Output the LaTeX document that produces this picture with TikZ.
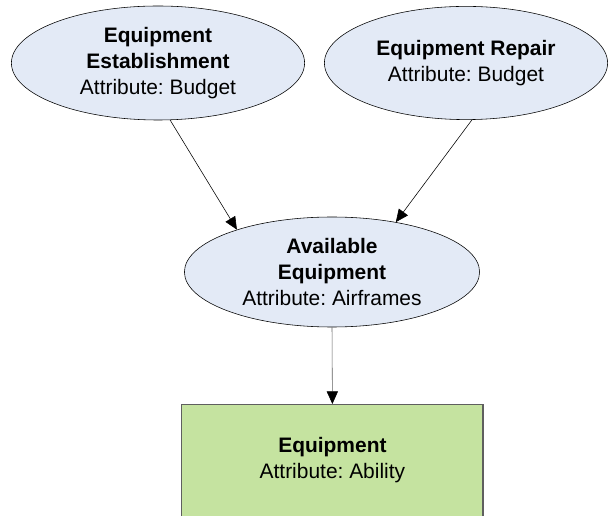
\documentclass[tikz,border=0pt]{standalone}
\usepackage{fontspec}
\setmainfont{Liberation Sans}
\usetikzlibrary{arrows.meta,shapes.geometric,positioning}
\definecolor{bubble}{HTML}{E3EAF6}
\definecolor{leaf}{HTML}{C5E3A0}
\definecolor{edge}{HTML}{5F5F5F}
\frenchspacing

\begin{document}
\begin{tikzpicture}[x=1cm,y=1cm,>={Triangle[length=9pt,width=8pt,color=black]},
  state/.style={ellipse,draw,thin,fill=bubble,inner sep=0pt,align=center,font=\fontsize{14.9}{18.6}\selectfont},
  block/.style={rectangle,draw=edge,thick,fill=leaf,inner sep=0pt},
  caption/.style={align=center,font=\fontsize{14.9}{18.6}\selectfont}]
\clip (0,0) rectangle (15.25,12.875);
\useasboundingbox (0,0) rectangle (15.25,12.875);
% budget side
\node[state,minimum width=7.33cm,minimum height=2.85cm] (est) at (3.95,11.3)
  {\textbf{Equipment}\\\textbf{Establishment}\\Attribute: Budget};
\node[state,minimum width=7.08cm,minimum height=2.83cm] (rep) at (11.65,11.3)
  {\textbf{Equipment Repair}\\Attribute: Budget};
% airframes
\node[state,minimum width=7.38cm,minimum height=2.75cm] (avail) at (8.3,6.075)
  {\textbf{Available}\\\textbf{Equipment}\\Attribute: Airframes};
% ability box, runs off the bottom
\node[block,anchor=north,minimum width=7.53cm,minimum height=3.4cm] (equip) at (8.31,2.775) {};
\node[caption,below=0.7cm of equip.north] (equiptxt) {\textbf{Equipment}\\Attribute: Ability};
\draw[->] (est.-78)--(avail.156);
\draw[->] (rep.-84)--(avail.38);
\draw[->,edge] (avail.south)--(equip.north);
\end{tikzpicture}
\end{document}
